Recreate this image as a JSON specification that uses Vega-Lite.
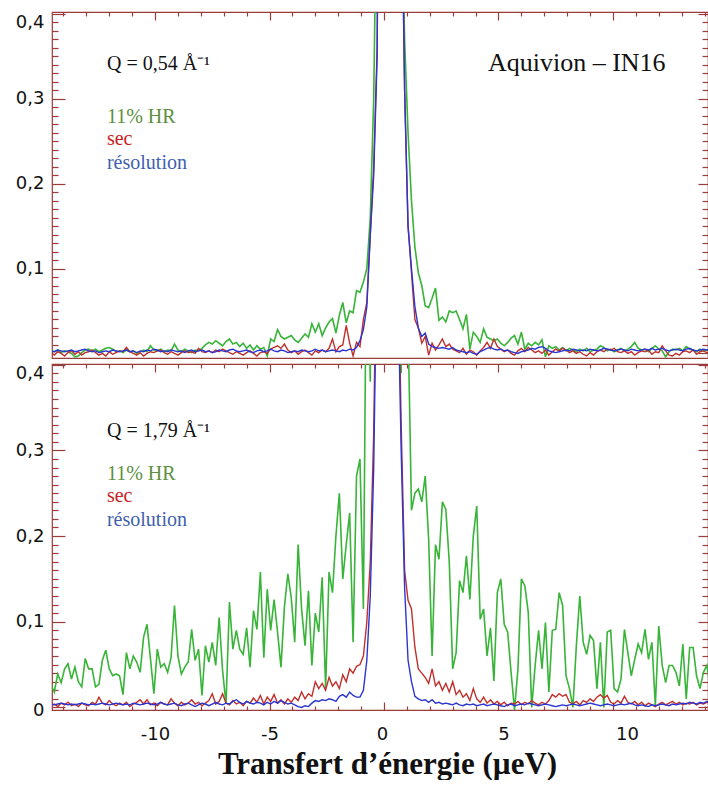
{
"$schema": "https://vega.github.io/schema/vega-lite/v6.json",
"padding": {"left": 0, "top": 10, "right": 0, "bottom": 0},
"background": "white",
"spacing": 3,
"config": {
  "view": {"stroke": "#9b3b3b", "strokeWidth": 1.2},
  "axis": {"domain": false, "grid": false, "tickColor": "#9b3b3b", "tickWidth": 1.2, "labelFont": "DejaVu Sans", "labelFontSize": 18, "labelColor": "#111111", "labelOverlap": false, "labelFlush": false},
  "text": {"font": "Liberation Serif", "fontSize": 20, "align": "left", "baseline": "alphabetic"}
},
"data": {"values": [
{"x":-14.55,"g1":0.003,"r1":0.001,"b1":0.003,"g2":0.027,"r2":0.002,"b2":0.004},
{"x":-14.4,"g1":0.002,"r1":-0.002,"b1":0.002,"g2":0.018,"r2":0.004,"b2":0.003},
{"x":-14.25,"g1":0.004,"r1":0.002,"b1":0.004,"g2":0.039,"r2":0.001,"b2":0.004},
{"x":-14.1,"g1":0.001,"r1":0,"b1":0.003,"g2":0.029,"r2":0.005,"b2":0.005},
{"x":-13.95,"g1":0.003,"r1":-0.003,"b1":0.002,"g2":0.045,"r2":0.003,"b2":0.004},
{"x":-13.8,"g1":0.002,"r1":0.001,"b1":0.003,"g2":0.051,"r2":0.006,"b2":0.003},
{"x":-13.65,"g1":0,"r1":0.003,"b1":0.004,"g2":0.033,"r2":0.002,"b2":0.004},
{"x":-13.5,"g1":-0.004,"r1":-0.001,"b1":0.002,"g2":0.047,"r2":0.004,"b2":0.003},
{"x":-13.35,"g1":-0.003,"r1":0.002,"b1":0.003,"g2":0.03,"r2":0.001,"b2":0.004},
{"x":-13.2,"g1":0.001,"r1":-0.002,"b1":0.004,"g2":0.024,"r2":0.005,"b2":0.005},
{"x":-13.05,"g1":0.004,"r1":0.001,"b1":0.005,"g2":0.057,"r2":0.003,"b2":0.004},
{"x":-12.9,"g1":0.005,"r1":0.002,"b1":0.003,"g2":0.045,"r2":0.002,"b2":0.003},
{"x":-12.75,"g1":0.003,"r1":0.004,"b1":0.002,"g2":0.045,"r2":0.006,"b2":0.004},
{"x":-12.6,"g1":0.005,"r1":0.001,"b1":0.003,"g2":0.024,"r2":0.004,"b2":0.003},
{"x":-12.45,"g1":0.002,"r1":-0.002,"b1":0.001,"g2":0.027,"r2":0.012,"b2":0.004},
{"x":-12.3,"g1":0.004,"r1":0,"b1":0.002,"g2":0.055,"r2":0.005,"b2":0.005},
{"x":-12.15,"g1":0.006,"r1":-0.003,"b1":0.003,"g2":0.067,"r2":0.003,"b2":0.004},
{"x":-12,"g1":0.007,"r1":0.002,"b1":0.002,"g2":0.045,"r2":0.008,"b2":0.003},
{"x":-11.85,"g1":0.005,"r1":-0.001,"b1":0.004,"g2":0.037,"r2":0.004,"b2":0.004},
{"x":-11.7,"g1":0.002,"r1":0.001,"b1":0.003,"g2":0.039,"r2":0.002,"b2":0.005},
{"x":-11.55,"g1":0.003,"r1":0.003,"b1":0.002,"g2":0.037,"r2":0.005,"b2":0.004},
{"x":-11.4,"g1":0.001,"r1":0.002,"b1":0.003,"g2":0.015,"r2":0.003,"b2":0.003},
{"x":-11.25,"g1":0.004,"r1":0.007,"b1":0.004,"g2":0.064,"r2":0.006,"b2":0.004},
{"x":-11.1,"g1":0.002,"r1":0.002,"b1":0.002,"g2":0.045,"r2":0.001,"b2":0.003},
{"x":-10.95,"g1":0.003,"r1":0,"b1":0.003,"g2":0.06,"r2":0.004,"b2":0.005},
{"x":-10.8,"g1":0,"r1":-0.002,"b1":0.001,"g2":0.053,"r2":0.006,"b2":0.004},
{"x":-10.65,"g1":0.002,"r1":0.001,"b1":0.003,"g2":0.041,"r2":0.009,"b2":0.003},
{"x":-10.5,"g1":0.004,"r1":-0.003,"b1":0.002,"g2":0.082,"r2":0.004,"b2":0.004},
{"x":-10.35,"g1":0.002,"r1":0,"b1":0.004,"g2":0.097,"r2":0.009,"b2":0.005},
{"x":-10.2,"g1":0.009,"r1":0.002,"b1":0.003,"g2":0.057,"r2":0.003,"b2":0.004},
{"x":-10.05,"g1":0.004,"r1":0.001,"b1":0.005,"g2":0.016,"r2":0.005,"b2":0.003},
{"x":-9.9,"g1":0.003,"r1":0.003,"b1":0.004,"g2":0.068,"r2":0.002,"b2":0.004},
{"x":-9.75,"g1":0.005,"r1":0.004,"b1":0.002,"g2":0.047,"r2":0.006,"b2":0.006},
{"x":-9.6,"g1":0.002,"r1":0.001,"b1":0.003,"g2":0.051,"r2":0.004,"b2":0.004},
{"x":-9.45,"g1":0.004,"r1":-0.001,"b1":0.002,"g2":0.041,"r2":0.003,"b2":0.003},
{"x":-9.3,"g1":0.003,"r1":0.002,"b1":0.004,"g2":0.058,"r2":0.01,"b2":0.004},
{"x":-9.15,"g1":0.011,"r1":0,"b1":0.003,"g2":0.119,"r2":0.005,"b2":0.005},
{"x":-9,"g1":0.004,"r1":-0.002,"b1":0.002,"g2":0.06,"r2":0.002,"b2":0.003},
{"x":-8.85,"g1":0.002,"r1":0.001,"b1":0.003,"g2":0.039,"r2":0.006,"b2":0.002},
{"x":-8.7,"g1":0.005,"r1":0.003,"b1":0.001,"g2":0.047,"r2":0.003,"b2":0.004},
{"x":-8.55,"g1":0.003,"r1":0.001,"b1":0.003,"g2":0.053,"r2":0.005,"b2":0.005},
{"x":-8.4,"g1":0.001,"r1":0.002,"b1":0.004,"g2":0.091,"r2":0.009,"b2":0.003},
{"x":-8.25,"g1":0.004,"r1":0,"b1":0.002,"g2":0.055,"r2":0.004,"b2":0.001},
{"x":-8.1,"g1":0.003,"r1":0.006,"b1":0.003,"g2":0.068,"r2":0.006,"b2":0.003},
{"x":-7.95,"g1":0.006,"r1":0.002,"b1":0.004,"g2":0.014,"r2":0.002,"b2":0.005},
{"x":-7.8,"g1":0.01,"r1":0.001,"b1":0.002,"g2":0.072,"r2":0.005,"b2":0.004},
{"x":-7.65,"g1":0.013,"r1":0.003,"b1":0.003,"g2":0.053,"r2":0.008,"b2":0.002},
{"x":-7.5,"g1":0.011,"r1":0.001,"b1":0.001,"g2":0.076,"r2":0.016,"b2":0.004},
{"x":-7.35,"g1":0.015,"r1":0.004,"b1":0.002,"g2":0.049,"r2":0.004,"b2":0.006},
{"x":-7.2,"g1":0.012,"r1":0.002,"b1":0.004,"g2":0.105,"r2":0.007,"b2":0.004},
{"x":-7.05,"g1":0.009,"r1":0.005,"b1":0.003,"g2":0.043,"r2":0.016,"b2":0.003},
{"x":-6.9,"g1":0.014,"r1":0.003,"b1":0.002,"g2":0.004,"r2":0.005,"b2":0.005},
{"x":-6.75,"g1":0.017,"r1":0.001,"b1":0.004,"g2":0.123,"r2":0.003,"b2":0.004},
{"x":-6.6,"g1":0.011,"r1":-0.001,"b1":0.005,"g2":0.068,"r2":0.008,"b2":0.007},
{"x":-6.45,"g1":0.013,"r1":0.002,"b1":0.003,"g2":0.09,"r2":0.004,"b2":0.009},
{"x":-6.3,"g1":0.008,"r1":0,"b1":0.002,"g2":0.068,"r2":0.006,"b2":0.006},
{"x":-6.15,"g1":0.012,"r1":-0.002,"b1":0.003,"g2":0.062,"r2":0.002,"b2":0.004},
{"x":-6,"g1":0.006,"r1":0.001,"b1":0.004,"g2":0.093,"r2":0.007,"b2":0.007},
{"x":-5.85,"g1":0.01,"r1":0.003,"b1":0.002,"g2":0.047,"r2":0.005,"b2":0.005},
{"x":-5.7,"g1":0.004,"r1":0,"b1":0.001,"g2":0.113,"r2":0.011,"b2":0.004},
{"x":-5.55,"g1":0.009,"r1":-0.003,"b1":0.003,"g2":0.091,"r2":0.006,"b2":0.006},
{"x":-5.4,"g1":0.005,"r1":0.001,"b1":0.004,"g2":0.158,"r2":0.014,"b2":0.005},
{"x":-5.25,"g1":0.007,"r1":0.002,"b1":0.002,"g2":0.058,"r2":0.004,"b2":0.003},
{"x":-5.1,"g1":-0.003,"r1":0,"b1":0.003,"g2":0.138,"r2":0.012,"b2":0.006},
{"x":-4.95,"g1":0.017,"r1":0.005,"b1":0.005,"g2":0.09,"r2":0.007,"b2":0.004},
{"x":-4.8,"g1":0.014,"r1":0.007,"b1":0.003,"g2":0.126,"r2":0.015,"b2":0.007},
{"x":-4.65,"g1":0.028,"r1":0.009,"b1":0.002,"g2":0.088,"r2":0.005,"b2":0.005},
{"x":-4.5,"g1":0.02,"r1":0.006,"b1":0.004,"g2":0.047,"r2":0.009,"b2":0.008},
{"x":-4.35,"g1":0.017,"r1":0.011,"b1":0.003,"g2":0.117,"r2":0.004,"b2":0.006},
{"x":-4.2,"g1":0.019,"r1":0.004,"b1":0.001,"g2":0.156,"r2":0.01,"b2":0.004},
{"x":-4.05,"g1":0.021,"r1":0.001,"b1":0.002,"g2":0.128,"r2":0.006,"b2":0.005},
{"x":-3.9,"g1":0.016,"r1":0.003,"b1":0.003,"g2":0.076,"r2":0.012,"b2":0.003},
{"x":-3.75,"g1":0.013,"r1":-0.001,"b1":0.002,"g2":0.19,"r2":0.008,"b2":0.001},
{"x":-3.6,"g1":0.018,"r1":0.002,"b1":0.004,"g2":0.115,"r2":0.018,"b2":0},
{"x":-3.45,"g1":0.023,"r1":0.004,"b1":0.003,"g2":0.072,"r2":0.01,"b2":0.002},
{"x":-3.3,"g1":0.019,"r1":0.001,"b1":0.002,"g2":0.136,"r2":0.016,"b2":0.001},
{"x":-3.15,"g1":0.035,"r1":-0.002,"b1":0.003,"g2":0.049,"r2":0.013,"b2":0.005},
{"x":-3,"g1":0.025,"r1":0.003,"b1":0.005,"g2":0.11,"r2":0.03,"b2":0.008},
{"x":-2.85,"g1":0.035,"r1":0.001,"b1":0.003,"g2":0.088,"r2":0.022,"b2":0.007},
{"x":-2.7,"g1":0.021,"r1":0.004,"b1":0.004,"g2":0.152,"r2":0.028,"b2":0.009},
{"x":-2.55,"g1":0.03,"r1":0.002,"b1":0.002,"g2":0.022,"r2":0.02,"b2":0.008},
{"x":-2.4,"g1":0.037,"r1":0.006,"b1":0.003,"g2":0.158,"r2":0.035,"b2":0.01},
{"x":-2.25,"g1":0.041,"r1":0.017,"b1":0.004,"g2":0.134,"r2":0.025,"b2":0.009},
{"x":-2.1,"g1":0.024,"r1":0.002,"b1":0.003,"g2":0.2,"r2":0.03,"b2":0.007},
{"x":-1.95,"g1":0.045,"r1":0.008,"b1":0.002,"g2":0.25,"r2":0.022,"b2":0.013},
{"x":-1.8,"g1":0.06,"r1":0.01,"b1":0.004,"g2":0.15,"r2":0.038,"b2":0.015},
{"x":-1.65,"g1":0.036,"r1":0.033,"b1":0.003,"g2":0.19,"r2":0.03,"b2":0.012},
{"x":-1.5,"g1":0.05,"r1":0.012,"b1":0.005,"g2":0.227,"r2":0.045,"b2":0.018},
{"x":-1.35,"g1":0.048,"r1":-0.003,"b1":0.004,"g2":0.076,"r2":0.04,"b2":0.014},
{"x":-1.2,"g1":0.074,"r1":0.013,"b1":0.007,"g2":0.27,"r2":0.048,"b2":0.012},
{"x":-1.05,"g1":0.072,"r1":0.008,"b1":0.015,"g2":0.29,"r2":0.05,"b2":0.012},
{"x":-0.9,"g1":0.084,"r1":0.04,"b1":0.028,"g2":0.115,"r2":0.06,"b2":0.02},
{"x":-0.75,"g1":0.1,"r1":0.06,"b1":0.055,"g2":0.6,"r2":0.1,"b2":0.055},
{"x":-0.6,"g1":0.16,"r1":0.14,"b1":0.14,"g2":0.38,"r2":0.17,"b2":0.13},
{"x":-0.45,"g1":0.3,"r1":0.22,"b1":0.21,"g2":0.9,"r2":0.32,"b2":0.28},
{"x":-0.3,"g1":0.6,"r1":0.36,"b1":0.35,"g2":1.3,"r2":0.6,"b2":0.55},
{"x":-0.15,"g1":1.2,"r1":1,"b1":1,"g2":2,"r2":1.2,"b2":1.2},
{"x":0,"g1":2,"r1":2,"b1":2,"g2":3,"r2":2,"b2":2},
{"x":0.15,"g1":2.5,"r1":2.6,"b1":2.6,"g2":3.2,"r2":2.2,"b2":2.2},
{"x":0.3,"g1":2.3,"r1":2.4,"b1":2.4,"g2":2.6,"r2":1.8,"b2":1.8},
{"x":0.45,"g1":1.5,"r1":1.6,"b1":1.6,"g2":1.8,"r2":1,"b2":1},
{"x":0.6,"g1":0.9,"r1":0.9,"b1":0.9,"g2":1.2,"r2":0.55,"b2":0.5},
{"x":0.75,"g1":0.55,"r1":0.58,"b1":0.6,"g2":0.39,"r2":0.33,"b2":0.3},
{"x":0.9,"g1":0.37,"r1":0.31,"b1":0.31,"g2":0.7,"r2":0.16,"b2":0.14},
{"x":1.05,"g1":0.26,"r1":0.15,"b1":0.15,"g2":0.45,"r2":0.125,"b2":0.055},
{"x":1.2,"g1":0.18,"r1":0.095,"b1":0.1,"g2":0.23,"r2":0.115,"b2":0.03},
{"x":1.35,"g1":0.125,"r1":0.04,"b1":0.055,"g2":0.25,"r2":0.07,"b2":0.013},
{"x":1.5,"g1":0.095,"r1":0.03,"b1":0.03,"g2":0.255,"r2":0.045,"b2":0.01},
{"x":1.65,"g1":0.08,"r1":0.012,"b1":0.02,"g2":0.24,"r2":0.04,"b2":0.008},
{"x":1.8,"g1":0.056,"r1":0.02,"b1":0.024,"g2":0.27,"r2":0.035,"b2":0.009},
{"x":1.95,"g1":0.054,"r1":-0.002,"b1":0.011,"g2":0.196,"r2":0.028,"b2":0.006},
{"x":2.1,"g1":0.065,"r1":0.012,"b1":0.008,"g2":0.06,"r2":0.045,"b2":0.009},
{"x":2.25,"g1":0.077,"r1":0.004,"b1":0.007,"g2":0.19,"r2":0.025,"b2":0.005},
{"x":2.4,"g1":0.039,"r1":0.01,"b1":0.006,"g2":0.173,"r2":0.03,"b2":0.006},
{"x":2.55,"g1":0.043,"r1":0.017,"b1":0.007,"g2":0.24,"r2":0.02,"b2":0.004},
{"x":2.7,"g1":0.037,"r1":0.008,"b1":0.006,"g2":0.231,"r2":0.028,"b2":0.005},
{"x":2.85,"g1":0.05,"r1":0.011,"b1":0.005,"g2":0.17,"r2":0.018,"b2":0.004},
{"x":3,"g1":0.048,"r1":0.005,"b1":0.007,"g2":0.045,"r2":0.03,"b2":0.003},
{"x":3.15,"g1":0.05,"r1":0.003,"b1":0.004,"g2":0.064,"r2":0.015,"b2":0.005},
{"x":3.3,"g1":0.04,"r1":0.001,"b1":0.003,"g2":0.148,"r2":0.02,"b2":0.003},
{"x":3.45,"g1":0.029,"r1":0.006,"b1":0.002,"g2":0.134,"r2":0.012,"b2":0.002},
{"x":3.6,"g1":0.046,"r1":-0.001,"b1":0.001,"g2":0.177,"r2":0.016,"b2":0.004},
{"x":3.75,"g1":0.005,"r1":0.004,"b1":0.002,"g2":0.126,"r2":0.008,"b2":0.003},
{"x":3.9,"g1":0.025,"r1":0.002,"b1":0,"g2":0.2,"r2":0.022,"b2":0.004},
{"x":4.05,"g1":0.02,"r1":-0.002,"b1":-0.001,"g2":0.235,"r2":0.01,"b2":0.002},
{"x":4.2,"g1":0.013,"r1":0.003,"b1":0.002,"g2":0.103,"r2":0.006,"b2":0.003},
{"x":4.35,"g1":0.029,"r1":0.007,"b1":0.004,"g2":0.115,"r2":0.012,"b2":0.004},
{"x":4.5,"g1":0.019,"r1":0.013,"b1":0.006,"g2":0.06,"r2":0.005,"b2":0.002},
{"x":4.65,"g1":0.017,"r1":0.006,"b1":0.007,"g2":0.093,"r2":0.009,"b2":0.003},
{"x":4.8,"g1":0.015,"r1":0.017,"b1":0.005,"g2":0.031,"r2":0.004,"b2":0.004},
{"x":4.95,"g1":0.017,"r1":0.008,"b1":0.004,"g2":0.134,"r2":0.007,"b2":0.003},
{"x":5.1,"g1":0.012,"r1":0.005,"b1":0.005,"g2":0.15,"r2":0.003,"b2":0.002},
{"x":5.25,"g1":0.009,"r1":0.002,"b1":0.003,"g2":0.097,"r2":0.006,"b2":0.001},
{"x":5.4,"g1":0.013,"r1":0.004,"b1":0.004,"g2":0.088,"r2":0.002,"b2":0.003},
{"x":5.55,"g1":0.018,"r1":0,"b1":0.002,"g2":0.041,"r2":0.005,"b2":0.004},
{"x":5.7,"g1":0.021,"r1":-0.002,"b1":0.001,"g2":-0.003,"r2":0.004,"b2":0.002},
{"x":5.85,"g1":0.011,"r1":0.003,"b1":0,"g2":0.045,"r2":0.007,"b2":0.003},
{"x":6,"g1":0.025,"r1":0.006,"b1":0.002,"g2":0.15,"r2":0.003,"b2":0.004},
{"x":6.15,"g1":0.005,"r1":0.002,"b1":0.003,"g2":0.142,"r2":0.006,"b2":0.003},
{"x":6.3,"g1":0.012,"r1":0.007,"b1":0.004,"g2":0.111,"r2":0.004,"b2":0.005},
{"x":6.45,"g1":0.009,"r1":0.004,"b1":0.006,"g2":0,"r2":0.008,"b2":0.004},
{"x":6.6,"g1":0.013,"r1":0.001,"b1":0.005,"g2":0.049,"r2":0.005,"b2":0.003},
{"x":6.75,"g1":0.01,"r1":0.003,"b1":0.007,"g2":0.09,"r2":0.003,"b2":0.002},
{"x":6.9,"g1":0.016,"r1":0,"b1":0.008,"g2":0.045,"r2":0.006,"b2":0.003},
{"x":7.05,"g1":-0.004,"r1":0.004,"b1":0.006,"g2":0.099,"r2":0.004,"b2":0.004},
{"x":7.2,"g1":0.009,"r1":-0.002,"b1":0.003,"g2":0.018,"r2":0.008,"b2":0.003},
{"x":7.35,"g1":0.006,"r1":0.002,"b1":0.002,"g2":0.09,"r2":0.015,"b2":0.002},
{"x":7.5,"g1":0.008,"r1":0.005,"b1":0.001,"g2":0.091,"r2":0.012,"b2":0.001},
{"x":7.65,"g1":0.004,"r1":0.003,"b1":0.002,"g2":0.134,"r2":0.016,"b2":0.002},
{"x":7.8,"g1":0.007,"r1":0.006,"b1":0.003,"g2":0.119,"r2":0.013,"b2":0.003},
{"x":7.95,"g1":0.003,"r1":0.004,"b1":0.004,"g2":0.037,"r2":0.015,"b2":0.002},
{"x":8.1,"g1":0.006,"r1":0.001,"b1":0.003,"g2":0.022,"r2":0.006,"b2":0.003},
{"x":8.25,"g1":0.004,"r1":0.003,"b1":0.005,"g2":0,"r2":0.004,"b2":0.004},
{"x":8.4,"g1":0.002,"r1":0,"b1":0.004,"g2":0.072,"r2":0.007,"b2":0.003},
{"x":8.55,"g1":0.005,"r1":0.002,"b1":0.003,"g2":0.13,"r2":0.003,"b2":0.002},
{"x":8.7,"g1":0.003,"r1":-0.001,"b1":0.004,"g2":0.076,"r2":0.008,"b2":0.003},
{"x":8.85,"g1":0.006,"r1":-0.003,"b1":0.003,"g2":0.062,"r2":0.006,"b2":0.004},
{"x":9,"g1":0.002,"r1":0.001,"b1":0.005,"g2":0.084,"r2":0.01,"b2":0.005},
{"x":9.15,"g1":0.004,"r1":-0.002,"b1":0.004,"g2":0.078,"r2":0.007,"b2":0.004},
{"x":9.3,"g1":0.005,"r1":0.002,"b1":0.003,"g2":0.022,"r2":0.012,"b2":0.003},
{"x":9.45,"g1":0.009,"r1":0.004,"b1":0.004,"g2":0.076,"r2":0.015,"b2":0.002},
{"x":9.6,"g1":0.007,"r1":0.002,"b1":0.006,"g2":0,"r2":0.011,"b2":0.003},
{"x":9.75,"g1":0.003,"r1":0.005,"b1":0.005,"g2":0.088,"r2":0.014,"b2":0.004},
{"x":9.9,"g1":0.005,"r1":0.004,"b1":0.004,"g2":0.09,"r2":0.006,"b2":0.003},
{"x":10.05,"g1":0.002,"r1":0.006,"b1":0.003,"g2":0.022,"r2":0.004,"b2":0.002},
{"x":10.2,"g1":0.004,"r1":0.002,"b1":0.004,"g2":0.018,"r2":0.008,"b2":0.003},
{"x":10.35,"g1":0.006,"r1":0.001,"b1":0.005,"g2":0.033,"r2":0.005,"b2":0.004},
{"x":10.5,"g1":0.003,"r1":0.003,"b1":0.004,"g2":0.091,"r2":0.013,"b2":0.003},
{"x":10.65,"g1":0.005,"r1":0,"b1":0.003,"g2":0.064,"r2":0.006,"b2":0.004},
{"x":10.8,"g1":0.008,"r1":0.002,"b1":0.005,"g2":0.037,"r2":0.004,"b2":0.005},
{"x":10.95,"g1":0.013,"r1":-0.002,"b1":0.004,"g2":0.056,"r2":0.007,"b2":0.003},
{"x":11.1,"g1":0.006,"r1":0.001,"b1":0.003,"g2":0.074,"r2":0.003,"b2":0.002},
{"x":11.25,"g1":0.004,"r1":0.003,"b1":0.004,"g2":0.064,"r2":0.006,"b2":0.003},
{"x":11.4,"g1":0.005,"r1":0.002,"b1":0.005,"g2":0.091,"r2":0.002,"b2":0.002},
{"x":11.55,"g1":0.002,"r1":0.004,"b1":0.004,"g2":0.056,"r2":0.005,"b2":0.001},
{"x":11.7,"g1":0.006,"r1":-0.001,"b1":0.006,"g2":0.076,"r2":0.003,"b2":0.003},
{"x":11.85,"g1":0.009,"r1":0.002,"b1":0.004,"g2":0.002,"r2":0.001,"b2":0.002},
{"x":12,"g1":0.005,"r1":0.001,"b1":0.005,"g2":0.095,"r2":0.004,"b2":0.003},
{"x":12.15,"g1":0.003,"r1":0.009,"b1":0.006,"g2":0.049,"r2":0.006,"b2":0.004},
{"x":12.3,"g1":-0.004,"r1":0.003,"b1":0.004,"g2":0.029,"r2":0.003,"b2":0.003},
{"x":12.45,"g1":0.002,"r1":-0.002,"b1":0.003,"g2":0.049,"r2":0.005,"b2":0.002},
{"x":12.6,"g1":0.005,"r1":-0.003,"b1":0.004,"g2":0.049,"r2":0.007,"b2":0.004},
{"x":12.75,"g1":0.004,"r1":0,"b1":0.005,"g2":0.041,"r2":0.004,"b2":0.003},
{"x":12.9,"g1":0.006,"r1":-0.002,"b1":0.004,"g2":0.025,"r2":0.006,"b2":0.004},
{"x":13.05,"g1":0.003,"r1":0.002,"b1":0.003,"g2":0.074,"r2":0.003,"b2":0.005},
{"x":13.2,"g1":0.008,"r1":0.003,"b1":0.005,"g2":0.01,"r2":0.005,"b2":0.004},
{"x":13.35,"g1":0.005,"r1":0.001,"b1":0.006,"g2":0.07,"r2":0.004,"b2":0.006},
{"x":13.5,"g1":0.004,"r1":0.004,"b1":0.004,"g2":0.07,"r2":0.006,"b2":0.005},
{"x":13.65,"g1":0.002,"r1":-0.001,"b1":0.003,"g2":0.037,"r2":0.003,"b2":0.004},
{"x":13.8,"g1":0.005,"r1":0.002,"b1":0.004,"g2":0.022,"r2":0.005,"b2":0.006},
{"x":13.95,"g1":0.003,"r1":0.003,"b1":0.005,"g2":0.041,"r2":0.004,"b2":0.005},
{"x":14.1,"g1":0.004,"r1":0.001,"b1":0.004,"g2":0.049,"r2":0.006,"b2":0.007},
{"x":14.25,"g1":0.003,"r1":0.002,"b1":0.004,"g2":0.022,"r2":0.005,"b2":0.006}
]},
"vconcat": [
{
  "width": 656, "height": 346,
  "resolve": {"axis": {"x": "independent", "y": "independent"}},
  "layer": [
    {"mark": {"type": "line", "color": "#38b438", "strokeWidth": 1.6, "clip": true},
     "encoding": {
       "x": {"field": "x", "type": "quantitative", "scale": {"domain": [-14.5, 14.15], "nice": false, "zero": false}, "axis": null},
       "y": {"field": "g1", "type": "quantitative", "scale": {"domain": [-0.0054, 0.4023], "nice": false, "zero": false},
             "axis": {"orient": "left", "title": null, "values": [0.01,0.02,0.03,0.04,0.05,0.06,0.07,0.08,0.09,0.1,0.11,0.12,0.13,0.14,0.15,0.16,0.17,0.18,0.19,0.2,0.21,0.22,0.23,0.24,0.25,0.26,0.27,0.28,0.29,0.3,0.31,0.32,0.33,0.34,0.35,0.36,0.37,0.38,0.39,0.4],
                      "tickSize": {"condition": {"test": "round(datum.value*100)%10==0", "value": -13}, "value": -6},
                      "labelPadding": 21, "minExtent": 51, "maxExtent": 51,
                      "labelExpr": "(round(datum.value*100)%10==0) ? replace(format(datum.value,'.1f'),'.',',') : ''",
                      "labelBaseline": {"condition": {"test": "datum.value>0.39", "value": "top"}, "value": "middle"}}}
     }},
    {"mark": {"type": "line", "color": "#c0302c", "strokeWidth": 1.4, "clip": true},
     "encoding": {
       "x": {"field": "x", "type": "quantitative", "axis": {"orient": "top", "title": null, "labels": false, "values": [-14,-13,-12,-11,-10,-9,-8,-7,-6,-5,-4,-3,-2,-1,0,1,2,3,4,5,6,7,8,9,10,11,12,13,14], "tickSize": {"condition": {"test": "datum.value%5==0", "value": -8}, "value": -4}, "minExtent": 0, "maxExtent": 0}},
       "y": {"field": "r1", "type": "quantitative", "axis": {"orient": "right", "title": null, "labels": false, "values": [0,0.01,0.02,0.03,0.04,0.05,0.06,0.07,0.08,0.09,0.1,0.11,0.12,0.13,0.14,0.15,0.16,0.17,0.18,0.19,0.2,0.21,0.22,0.23,0.24,0.25,0.26,0.27,0.28,0.29,0.3,0.31,0.32,0.33,0.34,0.35,0.36,0.37,0.38,0.39,0.4], "tickSize": {"condition": {"test": "round(datum.value*100)%10==0", "value": -10}, "value": -6}, "minExtent": 0, "maxExtent": 0}}
     }},
    {"mark": {"type": "line", "color": "#2b35d0", "strokeWidth": 1.4, "clip": true},
     "encoding": {
       "x": {"field": "x", "type": "quantitative", "axis": null},
       "y": {"field": "b1", "type": "quantitative", "axis": null}
     }},
    {"data": {"values": [{}]}, "mark": {"type": "text", "text": "Q = 0,54 Å⁻¹", "color": "#111111"},
     "encoding": {"x": {"datum": -12.1, "type": "quantitative", "axis": null}, "y": {"datum": 0.334, "type": "quantitative", "axis": null}}},
    {"data": {"values": [{}]}, "mark": {"type": "text", "text": "Aquivion – IN16", "color": "#111111", "fontSize": 26},
     "encoding": {"x": {"datum": 4.54, "type": "quantitative", "axis": null}, "y": {"datum": 0.333, "type": "quantitative", "axis": null}}},
    {"data": {"values": [{}]}, "mark": {"type": "text", "text": "11% HR", "color": "#5c9140"},
     "encoding": {"x": {"datum": -12.1, "type": "quantitative", "axis": null}, "y": {"datum": 0.272, "type": "quantitative", "axis": null}}},
    {"data": {"values": [{}]}, "mark": {"type": "text", "text": "sec", "color": "#c81e1e"},
     "encoding": {"x": {"datum": -12.1, "type": "quantitative", "axis": null}, "y": {"datum": 0.245, "type": "quantitative", "axis": null}}},
    {"data": {"values": [{}]}, "mark": {"type": "text", "text": "résolution", "color": "#3f5fae"},
     "encoding": {"x": {"datum": -12.1, "type": "quantitative", "axis": null}, "y": {"datum": 0.217, "type": "quantitative", "axis": null}}}
  ]
},
{
  "width": 656, "height": 346,
  "resolve": {"axis": {"x": "independent", "y": "independent"}},
  "layer": [
    {"mark": {"type": "line", "color": "#38b438", "strokeWidth": 1.6, "clip": true},
     "encoding": {
       "x": {"field": "x", "type": "quantitative", "scale": {"domain": [-14.5, 14.15], "nice": false, "zero": false},
             "axis": {"orient": "bottom", "title": "Transfert d’énergie (µeV)", "values": [-14,-13,-12,-11,-10,-9,-8,-7,-6,-5,-4,-3,-2,-1,0,1,2,3,4,5,6,7,8,9,10,11,12,13,14],
                      "tickSize": {"condition": {"test": "datum.value%5==0", "value": -8}, "value": -4},
                      "labelPadding": 23,
                      "labelExpr": "datum.value%5==0 ? ''+datum.value : ''",
                      "labelOffset": {"condition": [{"test": "datum.value==10", "value": 14}, {"test": "datum.value==5", "value": 5}, {"test": "datum.value==0", "value": -2}], "value": 0},
                      "titleFont": "Liberation Serif", "titleFontSize": 31, "titleFontWeight": "bold", "titleColor": "#111111",
                      "titleBaseline": "alphabetic", "titleY": 63, "titleX": 335}},
       "y": {"field": "g2", "type": "quantitative", "scale": {"domain": [-0.003, 0.4008], "nice": false, "zero": false},
             "axis": {"orient": "left", "title": null, "values": [0,0.01,0.02,0.03,0.04,0.05,0.06,0.07,0.08,0.09,0.1,0.11,0.12,0.13,0.14,0.15,0.16,0.17,0.18,0.19,0.2,0.21,0.22,0.23,0.24,0.25,0.26,0.27,0.28,0.29,0.3,0.31,0.32,0.33,0.34,0.35,0.36,0.37,0.38,0.39,0.4],
                      "tickSize": {"condition": {"test": "round(datum.value*100)%10==0", "value": -13}, "value": -6},
                      "labelPadding": 21, "minExtent": 51, "maxExtent": 51,
                      "labelOffset": {"condition": {"test": "datum.value==0", "value": 3}, "value": 0},
                      "labelExpr": "datum.value==0 ? '0' : (round(datum.value*100)%10==0 ? replace(format(datum.value,'.1f'),'.',',') : '')",
                      "labelBaseline": {"condition": {"test": "datum.value>0.39", "value": "top"}, "value": "middle"}}}
     }},
    {"mark": {"type": "line", "color": "#c0302c", "strokeWidth": 1.4, "clip": true},
     "encoding": {
       "x": {"field": "x", "type": "quantitative", "axis": {"orient": "top", "title": null, "labels": false, "values": [-14,-13,-12,-11,-10,-9,-8,-7,-6,-5,-4,-3,-2,-1,0,1,2,3,4,5,6,7,8,9,10,11,12,13,14], "tickSize": {"condition": {"test": "datum.value%5==0", "value": -8}, "value": -4}, "minExtent": 0, "maxExtent": 0}},
       "y": {"field": "r2", "type": "quantitative", "axis": {"orient": "right", "title": null, "labels": false, "values": [0,0.01,0.02,0.03,0.04,0.05,0.06,0.07,0.08,0.09,0.1,0.11,0.12,0.13,0.14,0.15,0.16,0.17,0.18,0.19,0.2,0.21,0.22,0.23,0.24,0.25,0.26,0.27,0.28,0.29,0.3,0.31,0.32,0.33,0.34,0.35,0.36,0.37,0.38,0.39,0.4], "tickSize": {"condition": {"test": "round(datum.value*100)%10==0", "value": -10}, "value": -6}, "minExtent": 0, "maxExtent": 0}}
     }},
    {"mark": {"type": "line", "color": "#2b35d0", "strokeWidth": 1.4, "clip": true},
     "encoding": {
       "x": {"field": "x", "type": "quantitative", "axis": null},
       "y": {"field": "b2", "type": "quantitative", "axis": null}
     }},
    {"data": {"values": [{}]}, "mark": {"type": "text", "text": "Q = 1,79 Å⁻¹", "color": "#111111"},
     "encoding": {"x": {"datum": -12.1, "type": "quantitative", "axis": null}, "y": {"datum": 0.316, "type": "quantitative", "axis": null}}},
    {"data": {"values": [{}]}, "mark": {"type": "text", "text": "11% HR", "color": "#5c9140"},
     "encoding": {"x": {"datum": -12.1, "type": "quantitative", "axis": null}, "y": {"datum": 0.2655, "type": "quantitative", "axis": null}}},
    {"data": {"values": [{}]}, "mark": {"type": "text", "text": "sec", "color": "#c81e1e"},
     "encoding": {"x": {"datum": -12.1, "type": "quantitative", "axis": null}, "y": {"datum": 0.2395, "type": "quantitative", "axis": null}}},
    {"data": {"values": [{}]}, "mark": {"type": "text", "text": "résolution", "color": "#3f5fae"},
     "encoding": {"x": {"datum": -12.1, "type": "quantitative", "axis": null}, "y": {"datum": 0.212, "type": "quantitative", "axis": null}}}
  ]
}
]
}
